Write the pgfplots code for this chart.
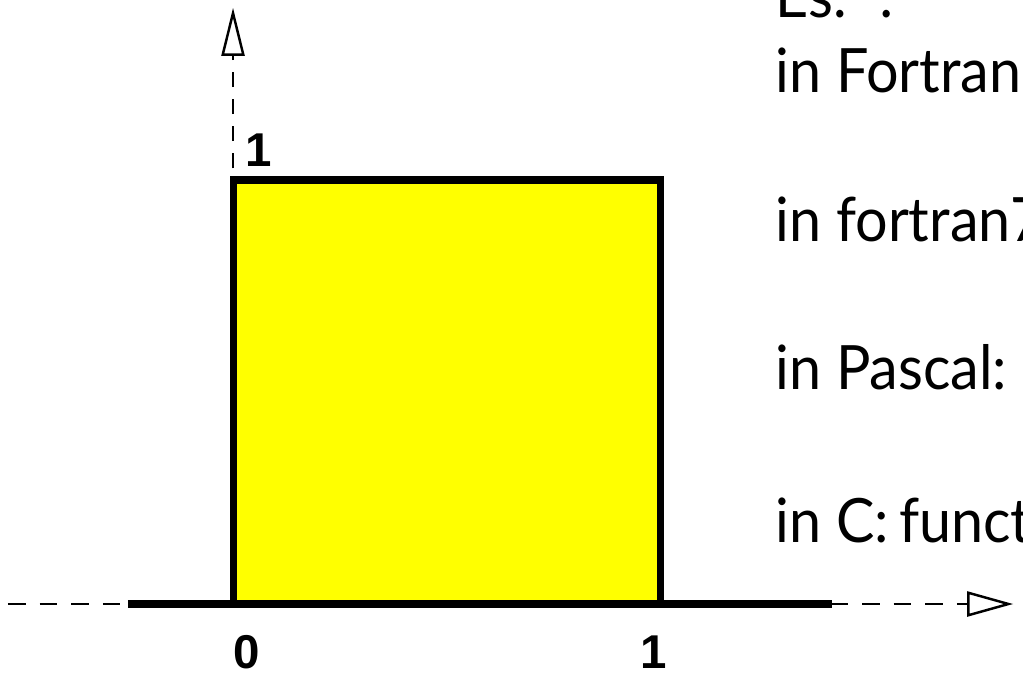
\documentclass[border=0pt]{standalone}
\usepackage{pgfplots}
\pgfplotsset{compat=1.18}
\usepackage{fontspec}
\setmainfont[FakeStretch=0.94]{Lato}
\newfontfamily\labfont{Liberation Sans}
\usetikzlibrary{arrows.meta}
\definecolor{boxyellow}{RGB}{255,255,0}
\begin{document}
\begin{tikzpicture}
\begin{axis}[scale only axis, width=10.23cm, height=6.72cm,
  xmin=-0.5457, xmax=1.8501, ymin=-0.1604, ymax=1.4245,
  hide axis, clip=false]
% dashed axes with open arrow heads
\addplot[black, line width=0.5pt, dash pattern=on 5pt off 4pt,
  -{Triangle[open, length=0.46cm, width=0.25cm, fill=white, line width=0.7pt]}]
  coordinates {(-0.527,0) (1.827,0)};
\addplot[black, line width=0.5pt, dash pattern=on 4.3pt off 3.4pt,
  -{Triangle[open, length=0.48cm, width=0.23cm, fill=white, line width=0.7pt]}]
  coordinates {(0,0.9) (0,1.406)};
% density outside [0,1]
\addplot[black, line width=2pt] coordinates {(-0.246,0) (1.403,0)};
% uniform density on [0,1]
\addplot[fill=boxyellow, draw=black, line width=2pt, line join=miter]
  coordinates {(0,0) (0,1) (1,1) (1,0)} -- cycle;
% tick labels
\node[font=\labfont\bfseries\fontsize{13.5}{15}\selectfont] at (axis cs:0.033,-0.113) {0};
\node[font=\labfont\bfseries\fontsize{13.5}{15}\selectfont] at (axis cs:0.986,-0.113) {1};
\node[font=\labfont\bfseries\fontsize{13.5}{15}\selectfont] at (axis cs:0.059,1.071) {1};
% text on the right
\node[anchor=base west, inner sep=0pt, font=\fontsize{17.4}{20}\selectfont] at (axis cs:1.269,1.384) {Es.\hspace{0.33cm}:};
\node[anchor=base west, inner sep=0pt, font=\fontsize{17.4}{20}\selectfont] at (axis cs:1.269,1.2075) {in Fortran 90: random\_number};
\node[anchor=base west, inner sep=0pt, font=\fontsize{17.4}{20}\selectfont] at (axis cs:1.269,0.854) {in fortran77: rand()};
\node[anchor=base west, inner sep=0pt, font=\fontsize{17.4}{20}\selectfont] at (axis cs:1.269,0.505) {in Pascal:\ \ random};
\node[anchor=base west, inner sep=0pt, font=\fontsize{17.4}{20}\selectfont] at (axis cs:1.269,0.146) {in C:\,function rand()};
\end{axis}
\pgfresetboundingbox
\useasboundingbox (current axis.south west) rectangle (current axis.north east);
\end{tikzpicture}
\end{document}
